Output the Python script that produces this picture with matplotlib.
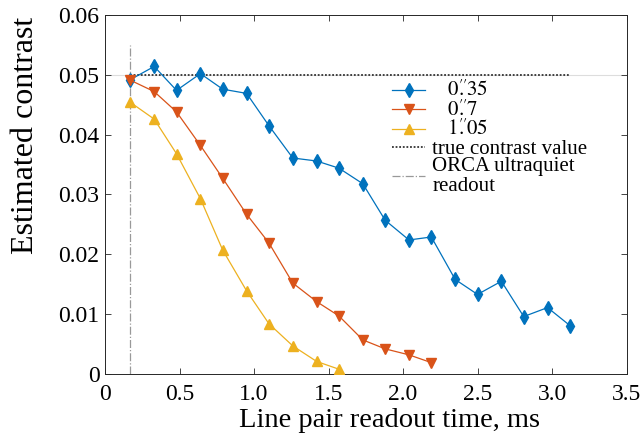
import matplotlib
matplotlib.use("Agg")
import matplotlib.pyplot as plt

plt.rcParams['font.family'] = ['Liberation Serif', 'DejaVu Serif']
plt.rcParams['mathtext.fontset'] = 'stix'

# readout time per line pair (ms) and estimated contrast for each seeing value
t_ms = [0.17, 0.33, 0.48, 0.64, 0.79, 0.95, 1.10, 1.26, 1.42, 1.57,
        1.73, 1.88, 2.04, 2.19, 2.35, 2.50, 2.66, 2.81, 2.97, 3.12]
c_035 = [0.0492, 0.0514, 0.0474, 0.0502, 0.0476, 0.0469, 0.0415, 0.0361, 0.0356, 0.0344,
         0.0318, 0.0257, 0.0224, 0.0229, 0.0158, 0.0133, 0.0155, 0.0096, 0.0111, 0.0081]
c_07 = [0.0491, 0.0472, 0.0438, 0.0382, 0.0327, 0.0267, 0.0219, 0.0152, 0.0121, 0.0097,
        0.0057, 0.0042, 0.0032, 0.0019]
c_105 = [0.0454, 0.0426, 0.0368, 0.0293, 0.0207, 0.0139, 0.0084, 0.0047, 0.0021, 0.0008]

true_contrast = 0.05
orca_readout = 0.17
labels = [r"   $0\overset{\prime\prime}{.}35$", r"   $0\overset{\prime\prime}{.}7$",
          r"   $1\overset{\prime\prime}{.}05$"]

fig = plt.figure(figsize=(6.42, 4.36), dpi=100)
ax = fig.add_axes([0.1636, 0.1422, 0.8123, 0.8234])

ax.axhline(true_contrast, color='#dddddd', lw=0.8, zorder=1)

ax.plot(t_ms, c_035, '-d', color='#0072BD', lw=0.9, ms=7, label=labels[0], zorder=3)
ax.plot(t_ms[:len(c_07)], c_07, '-v', color='#D95319', lw=0.9, ms=6.5, label=labels[1], zorder=3)
ax.plot(t_ms[:len(c_105)], c_105, '-^', color='#EDB120', lw=0.9, ms=6.5, label=labels[2], zorder=3)

ax.plot([t_ms[0], t_ms[-1]], [true_contrast, true_contrast], color='#333333',
        ls=(0, (1, 1)), lw=1.3, label='true contrast value', zorder=2)
ax.plot([orca_readout, orca_readout], [0, 0.055], color='#999999', ls='-.', lw=0.9,
        label='ORCA ultraquiet\nreadout', zorder=2)

ax.set_xlim(0, 3.5)
ax.set_ylim(0, 0.06)
ax.set_xticks([0, 0.5, 1.0, 1.5, 2.0, 2.5, 3.0, 3.5])
ax.set_xticklabels(['0', '0.5', '1.0', '1.5', '2.0', '2.5', '3.0', '3.5'])
ax.set_yticks([0, 0.01, 0.02, 0.03, 0.04, 0.05, 0.06])
ax.set_yticklabels(['0', '0.01', '0.02', '0.03', '0.04', '0.05', '0.06'])
ax.tick_params(direction='in', length=4, width=0.6, color='#262626',
               top=True, right=True, labelsize=17)
ax.tick_params(axis='x', pad=7)
ax.tick_params(axis='y', pad=4)
for s in ax.spines.values():
    s.set_color('#262626')
    s.set_linewidth(0.7)

ax.set_xlabel('Line pair readout time, ms', fontsize=20.5)
ax.xaxis.set_label_coords(0.5455, -0.096)
ax.set_ylabel('Estimated contrast', fontsize=23)
ax.yaxis.set_label_coords(-0.153, 0.666)
ax.yaxis.label.set_verticalalignment('center')

leg = ax.legend(loc='upper left', bbox_to_anchor=(0.55, 0.816), frameon=False,
                fontsize=15, borderpad=0, handlelength=1.6, handletextpad=0.35,
                labelspacing=-0.08, borderaxespad=0)
for t in leg.get_texts():
    t.set_linespacing(1.05)

fig.savefig('out.png', dpi=100)
